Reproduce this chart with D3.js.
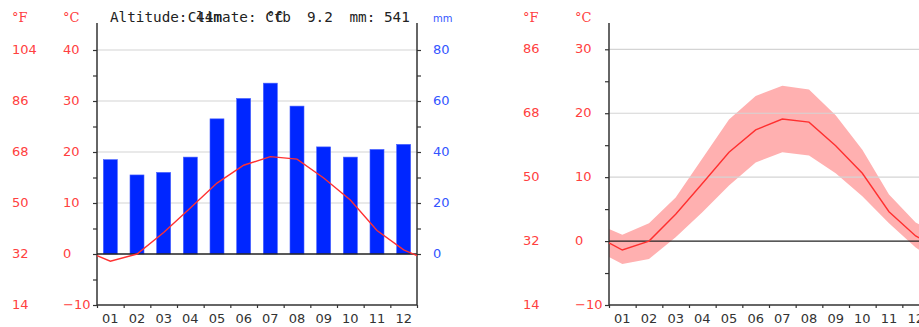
<!DOCTYPE html>
<html><head><meta charset="utf-8">
<script src="https://cdn.jsdelivr.net/npm/d3@7"></script>
<style>body{margin:0;background:#fff}svg{display:block}</style>
</head><body>
<svg id="c" width="919" height="327"></svg>
<script>
const months = ["01","02","03","04","05","06","07","08","09","10","11","12"];
const precip = [37,31,32,38,53,61,67,58,42,38,41,43];
const tempMean = [-1.4,0.0,4.2,9.0,13.9,17.4,19.1,18.6,14.9,10.6,4.6,0.8];
const tempMax = [1.0,2.8,6.8,12.9,19.0,22.7,24.3,23.7,19.7,14.3,7.3,2.9];
const tempMin = [-3.6,-2.8,0.6,4.5,8.7,12.3,13.9,13.4,10.6,7.0,2.8,-1.0];
const edgeMean = -0.3, edgeMax = 1.9, edgeMin = -2.5;
const leftTicksC = [-10,0,10,20,30,40];
const leftTicksF = [14,32,50,68,86,104];
const precipTicks = [0,20,40,60,80];
const rightTicksC = [-10,0,10,20,30];
const rightTicksF = [14,32,50,68,86];
const header = {alt:"Altitude: 44m", clim:"Climate: Cfb", deg:"°C", mean:"9.2", mm:"mm: 541"};

const RED="#ff4040", LINE="#ff3030", BLUE="#3355ff", BAR="#0026ff", BAND="#ffb0b0", GRID="#d4d4d4", AX="#333";
const svg = d3.select("#c");
const sans = "DejaVu Sans, sans-serif";

function chart(x0, yTop, yScale, ticksC, ticksF, fx, cx) {
  const x = d3.scaleLinear().domain([0,12]).range([x0, x0+320]);
  const g = svg.append("g");
  // gridlines
  const gg = g.append("g");
  ticksC.filter(v=>v>0).forEach(v=>{
    gg.append("line").attr("x1",x(0)).attr("x2",x(12)).attr("y1",yScale(v)).attr("y2",yScale(v))
      .attr("stroke",GRID).attr("stroke-width",1.2);
  });
  // left axis
  const minor = d3.range(-10, ticksC[ticksC.length-1]+0.1, 5);
  const ax = g.append("g").attr("transform",`translate(${x(0)},0)`)
    .call(d3.axisLeft(yScale).tickValues(minor).tickSize(4).tickFormat(""));
  ax.select(".domain").remove();
  ax.selectAll("line").attr("stroke",AX).attr("stroke-width",1.2);
  g.append("line").attr("x1",x(0)).attr("x2",x(0)).attr("y1",yTop).attr("y2",yScale(-10))
    .attr("stroke",AX).attr("stroke-width",1.5);
  // bottom axis
  g.append("line").attr("x1",x(0)).attr("x2",x(12)).attr("y1",yScale(-10)).attr("y2",yScale(-10))
    .attr("stroke",AX).attr("stroke-width",1.5);
  const bx = g.append("g").attr("transform",`translate(0,${yScale(-10)})`)
    .call(d3.axisBottom(x).tickValues(d3.range(0,13)).tickSize(3).tickFormat(""));
  bx.select(".domain").remove();
  bx.selectAll("line").attr("stroke",AX).attr("stroke-width",1.2);
  months.forEach((m,i)=>{
    g.append("text").attr("x",x(i+0.5)).attr("y",319).attr("text-anchor","middle")
      .attr("dominant-baseline","middle").attr("font-family",sans).attr("font-size",13)
      .attr("fill","#333").text(m);
  });
  // temp labels
  ticksC.forEach((v,i)=>{
    g.append("text").attr("x",cx).attr("y",yScale(v)).attr("dominant-baseline","middle")
      .attr("font-family",sans).attr("font-size",13).attr("fill",RED).text(v<0?"−"+(-v):v);
    g.append("text").attr("x",fx).attr("y",yScale(v)).attr("dominant-baseline","middle")
      .attr("font-family",sans).attr("font-size",13).attr("fill",RED).text(ticksF[i]);
  });
  g.append("text").attr("x",fx).attr("y",22).attr("font-family","DejaVu Serif, serif")
    .attr("font-size",13).attr("fill",RED).text("°F");
  g.append("text").attr("x",cx).attr("y",22).attr("font-family","DejaVu Serif, serif")
    .attr("font-size",13).attr("fill",RED).text("°C");
  return {g, x};
}

// ---------- left chart ----------
const yL = d3.scaleLinear().domain([-10,40]).range([305,50]);
const yP = d3.scaleLinear().domain([0,80]).range([yL(0), yL(40)]);
const L = chart(97, 23, yL, leftTicksC, leftTicksF, 12, 63);
const band = d3.scaleBand().domain(months).range([97,417]).paddingInner(0.475).paddingOuter(0.2375);
L.g.append("g").selectAll("rect").data(precip).join("rect")
  .attr("x",(d,i)=>band(months[i])).attr("width",band.bandwidth())
  .attr("y",d=>yP(d)).attr("height",d=>yP(0)-yP(d))
  .attr("fill",BAR).attr("stroke","#4a62ff").attr("stroke-width",0.6);
// zero line
L.g.append("line").attr("x1",L.x(0)).attr("x2",L.x(12)).attr("y1",yL(0)).attr("y2",yL(0))
  .attr("stroke","#222").attr("stroke-width",1.3);
// right precip axis
const rax = L.g.append("g").attr("transform","translate(417,0)")
  .call(d3.axisRight(yP).tickValues(d3.range(0,81,10)).tickSize(4).tickFormat(""));
rax.select(".domain").remove();
rax.selectAll("line").attr("stroke",AX).attr("stroke-width",1.2);
L.g.append("line").attr("x1",417).attr("x2",417).attr("y1",23).attr("y2",305)
  .attr("stroke",AX).attr("stroke-width",1.5);
precipTicks.forEach(v=>{
  L.g.append("text").attr("x",433).attr("y",yP(v)).attr("dominant-baseline","middle")
    .attr("font-family",sans).attr("font-size",13).attr("fill",BLUE).text(v);
});
L.g.append("text").attr("x",433).attr("y",22).attr("font-family",sans).attr("font-size",10)
  .attr("fill",BLUE).text("mm");
const ptsL = [[L.x(0),edgeMean]].concat(tempMean.map((v,i)=>[L.x(i+0.5),v])).concat([[L.x(12),edgeMean]]);
L.g.append("path").attr("d",d3.line().x(d=>d[0]).y(d=>yL(d[1]))(ptsL))
  .attr("fill","none").attr("stroke",LINE).attr("stroke-width",1.4);
// header
const mono = "DejaVu Sans Mono, monospace";
const hs = 14.3;
[[110,header.alt],[187.7,header.clim],[266.5,header.deg],[307,header.mean],[349.5,header.mm]].forEach(([xx,t])=>{
  svg.append("text").attr("x",xx).attr("y",22).attr("font-family",mono).attr("font-size",hs)
    .attr("fill","#222").text(t);
});

// ---------- right chart ----------
const yR = d3.scaleLinear().domain([-10,30]).range([305,49.3]);
const R = chart(609, 23, yR, rightTicksC, rightTicksF, 523, 575);
const ids = d3.range(0,12);
const bandPts = [{x:R.x(0),lo:edgeMin,hi:edgeMax}]
  .concat(ids.map(i=>({x:R.x(i+0.5),lo:tempMin[i],hi:tempMax[i]})))
  .concat([{x:R.x(12),lo:edgeMin,hi:edgeMax}]);
R.g.insert("path",":first-child").attr("d",d3.area().x(d=>d.x).y0(d=>yR(d.lo)).y1(d=>yR(d.hi))(bandPts))
  .attr("fill",BAND);
R.g.append("line").attr("x1",R.x(0)).attr("x2",R.x(12)).attr("y1",yR(0)).attr("y2",yR(0))
  .attr("stroke","#222").attr("stroke-width",1.3);
const ptsR = [[R.x(0),edgeMean]].concat(tempMean.map((v,i)=>[R.x(i+0.5),v])).concat([[R.x(12),edgeMean]]);
R.g.append("path").attr("d",d3.line().x(d=>d[0]).y(d=>yR(d[1]))(ptsR))
  .attr("fill","none").attr("stroke",LINE).attr("stroke-width",1.4);
</script>
</body></html>
